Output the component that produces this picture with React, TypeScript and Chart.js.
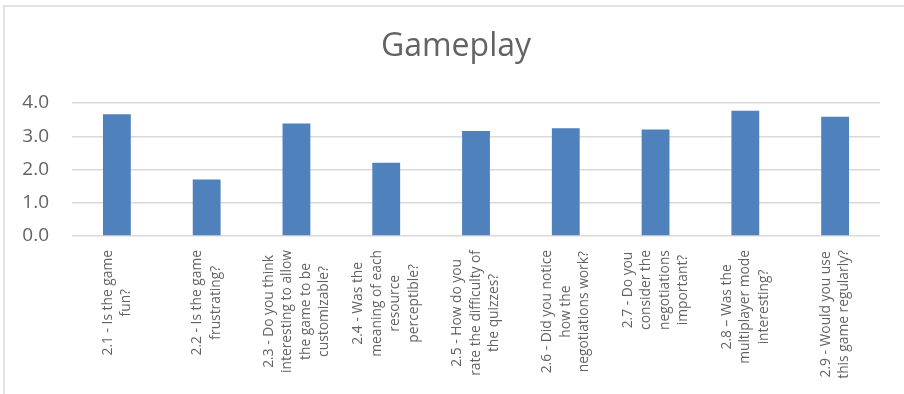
import React, { useEffect, useRef } from "react";
import { Chart, registerables } from "chart.js";

Chart.register(...registerables);

const chartTitle = "Gameplay";
const categories: string[][] = [
  ["2.1 - Is the game", "fun?"],
  ["2.2 - Is the game", "frustrating?"],
  ["2.3 - Do you think", "interesting to allow", "the game to be", "customizable?"],
  ["2.4 - Was the", "meaning of each", "resource", "perceptible?"],
  ["2.5 - How do you", "rate the difficulty of", "the quizzes?"],
  ["2.6 - Did you notice", "how the", "negotiations work?"],
  ["2.7 - Do you", "consider the", "negotiations", "important?"],
  ["2.8 \u2013 Was the", "multiplayer mode", "interesting?"],
  ["2.9 - Would you use", "this game regularly?"],
];
const values = [3.66, 1.7, 3.38, 2.2, 3.16, 3.24, 3.2, 3.77, 3.59];
const yMin = 0;
const yMax = 4;
const yStep = 1;

const FONT = '"Open Sans", "DejaVu Sans", sans-serif';
const TEXT_COLOR = "#636363";
const GRID_COLOR = "#d9d9d9";
const BAR_COLOR = "#4f81bd";

const xLabelPlugin = {
  id: "xLabelsCentered",
  afterDraw(chart: any) {
    const ctx = chart.ctx as CanvasRenderingContext2D;
    const xScale = chart.scales.x;
    const lineH = 18.5;
    ctx.save();
    ctx.font = `13.8px ${FONT}`;
    ctx.fillStyle = TEXT_COLOR;
    ctx.textAlign = "center";
    ctx.textBaseline = "middle";
    categories.forEach((lines, i) => {
      const px = xScale.getPixelForValue(i);
      const maxW = Math.max(...lines.map((l) => ctx.measureText(l).width));
      const cy = chart.chartArea.bottom + 14 + maxW / 2;
      ctx.save();
      ctx.translate(px, cy);
      ctx.rotate(-Math.PI / 2);
      const n = lines.length;
      lines.forEach((l, j) => {
        ctx.fillText(l, 0, (j - (n - 1) / 2) * lineH);
      });
      ctx.restore();
    });
    ctx.restore();
  },
};

const titlePlugin = {
  id: "offsetTitle",
  afterDraw(chart: any) {
    const ctx = chart.ctx as CanvasRenderingContext2D;
    const area = chart.chartArea;
    ctx.save();
    ctx.font = `32px ${FONT}`;
    ctx.fillStyle = TEXT_COLOR;
    ctx.textAlign = "center";
    ctx.textBaseline = "middle";
    ctx.fillText(chartTitle, (area.left + area.right) / 2 - 20, 47.2);
    ctx.restore();
  },
};

export default function App() {
  const canvasRef = useRef<HTMLCanvasElement | null>(null);

  useEffect(() => {
    let chart: Chart | null = null;
    let cancelled = false;
    const make = () => {
      if (cancelled || !canvasRef.current) return;
      chart = new Chart(canvasRef.current, {
        type: "bar",
        data: {
          labels: categories.map((c) => c.join(" ")),
          datasets: [
            {
              data: values,
              backgroundColor: BAR_COLOR,
              borderWidth: 0,
              barPercentage: 0.31,
              categoryPercentage: 1,
            },
          ],
        },
        options: {
          responsive: false,
          animation: false,
          layout: { padding: { left: 0, right: 24, top: 103, bottom: 0 } },
          plugins: {
            legend: { display: false },
            tooltip: { enabled: false },
            title: { display: false },
          },
          scales: {
            x: {
              grid: { display: false },
              border: { display: false },
              ticks: { display: false },
              afterFit: (scale: any) => {
                scale.height = 158;
              },
            },
            y: {
              min: yMin,
              max: yMax,
              ticks: {
                stepSize: yStep,
                color: TEXT_COLOR,
                font: { family: FONT, size: 19 },
                padding: 23,
                callback: (v: any) => Number(v).toFixed(1),
              },
              grid: { color: GRID_COLOR, lineWidth: 1.5, drawTicks: false },
              border: { display: false },
              afterFit: (scale: any) => {
                scale.width = 72;
              },
            },
          },
        },
        plugins: [xLabelPlugin, titlePlugin],
      });
    };
    const fontsReady = (document as any).fonts
      ? Promise.all([
          (document as any).fonts.load(`14px "Open Sans"`),
          (document as any).fonts.load(`32px "Open Sans"`),
        ]).catch(() => null)
      : Promise.resolve(null);
    fontsReady.then(make);
    return () => {
      cancelled = true;
      if (chart) chart.destroy();
    };
  }, []);

  return (
    <div
      style={{
        position: "fixed",
        left: 0,
        top: 0,
        width: 904,
        height: 394,
        background: "#fff",
        overflow: "hidden",
      }}
    >
      <div
        style={{
          position: "absolute",
          left: 3,
          top: 5,
          width: 920,
          height: 400,
          borderTop: "2px solid #e2e2e2",
          borderLeft: "2px solid #e2e2e2",
          boxSizing: "border-box",
        }}
      />
      <canvas
        ref={canvasRef}
        width={904}
        height={394}
        style={{ position: "absolute", left: 0, top: 0 }}
      />
    </div>
  );
}
